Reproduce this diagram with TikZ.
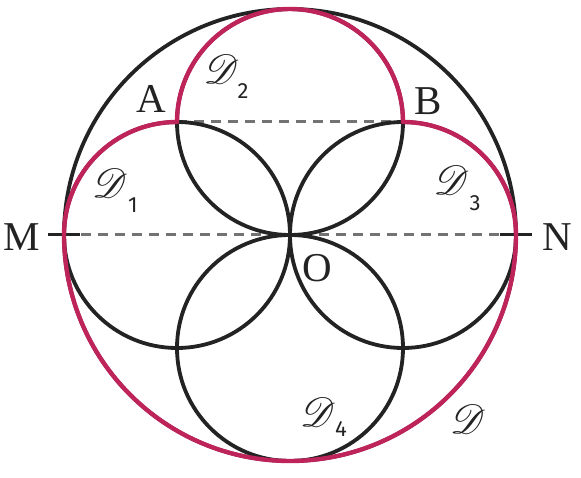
\documentclass[tikz,border=0pt]{standalone}
\usepackage{fontspec}
\setmainfont{Liberation Serif}
\setsansfont{Fira Sans}
\font\scrD=rsfs10 at 41pt
\definecolor{rosered}{RGB}{190,35,90}
\definecolor{ink}{RGB}{35,35,35}
\definecolor{dashgray}{RGB}{115,115,115}
\begin{document}
\begin{tikzpicture}[x=1pt,y=1pt,
  blackline/.style={draw=ink,line width=3.8pt},
  redline/.style={draw=rosered,line width=4.4pt,line join=round},
  dashline/.style={draw=dashgray,line width=3pt,dash pattern=on 10pt off 7pt},
  tickline/.style={draw=ink,line width=3pt},
  ptlabel/.style={inner sep=0pt,text=ink,font=\fontsize{41}{50}\selectfont},
  dlabel/.style={inner sep=0pt,text=ink,font=\scrD},
  sublabel/.style={inner sep=0pt,text=ink,font=\fontsize{22}{26}\selectfont\sffamily}]
\useasboundingbox (0,0) rectangle (581,477);
\coordinate (O) at (290,242);
\coordinate (M) at (64,242);
\coordinate (N) at (516,242);
\coordinate (A) at (177,355);
\coordinate (B) at (403,355);
\coordinate (C1) at (177,242);
\coordinate (C2) at (290,355);
\coordinate (C3) at (403,242);
\coordinate (C4) at (290,129);
% dashed lines
\draw[dashline] (M) -- (N);
\draw[dashline] (A) -- (B);
% ticks
\draw[tickline] ([xshift=-16pt]M) -- ([xshift=16pt]M);
\draw[tickline] ([xshift=-16pt]N) -- ([xshift=16pt]N);
% black circles
\draw[blackline] (O) circle[radius=226];
\draw[blackline] (C1) circle[radius=113];
\draw[blackline] (C2) circle[radius=113];
\draw[blackline] (C3) circle[radius=113];
\draw[blackline] (C4) circle[radius=113];
% red outline
\draw[redline] (M) arc[start angle=180,end angle=90,radius=113]
  arc[start angle=180,end angle=0,radius=113]
  arc[start angle=90,end angle=0,radius=113]
  arc[start angle=0,end angle=-180,radius=226] -- cycle;
% point labels
\node[ptlabel] (lM) at (22,240) {M};
\node[ptlabel] (lN) at (557,240) {N};
\node[ptlabel] (lA) at (151,378) {A};
\node[ptlabel] (lB) at (428,376) {B};
\node[ptlabel] (lO) at (317,209) {O};
% D labels
\node[dlabel] (d1) at (108,294) {D};
\node[sublabel] (s1) at (133,272) {1};
\node[dlabel] (d2) at (219.5,408) {D};
\node[sublabel] (s2) at (243,385.5) {2};
\node[dlabel] (d3) at (449.5,297) {D};
\node[sublabel] (s3) at (475,273.5) {3};
\node[dlabel] (d4) at (316,65) {D};
\node[sublabel] (s4) at (341,48) {4};
\node[dlabel] (d) at (466,58) {D};
\end{tikzpicture}
\end{document}
